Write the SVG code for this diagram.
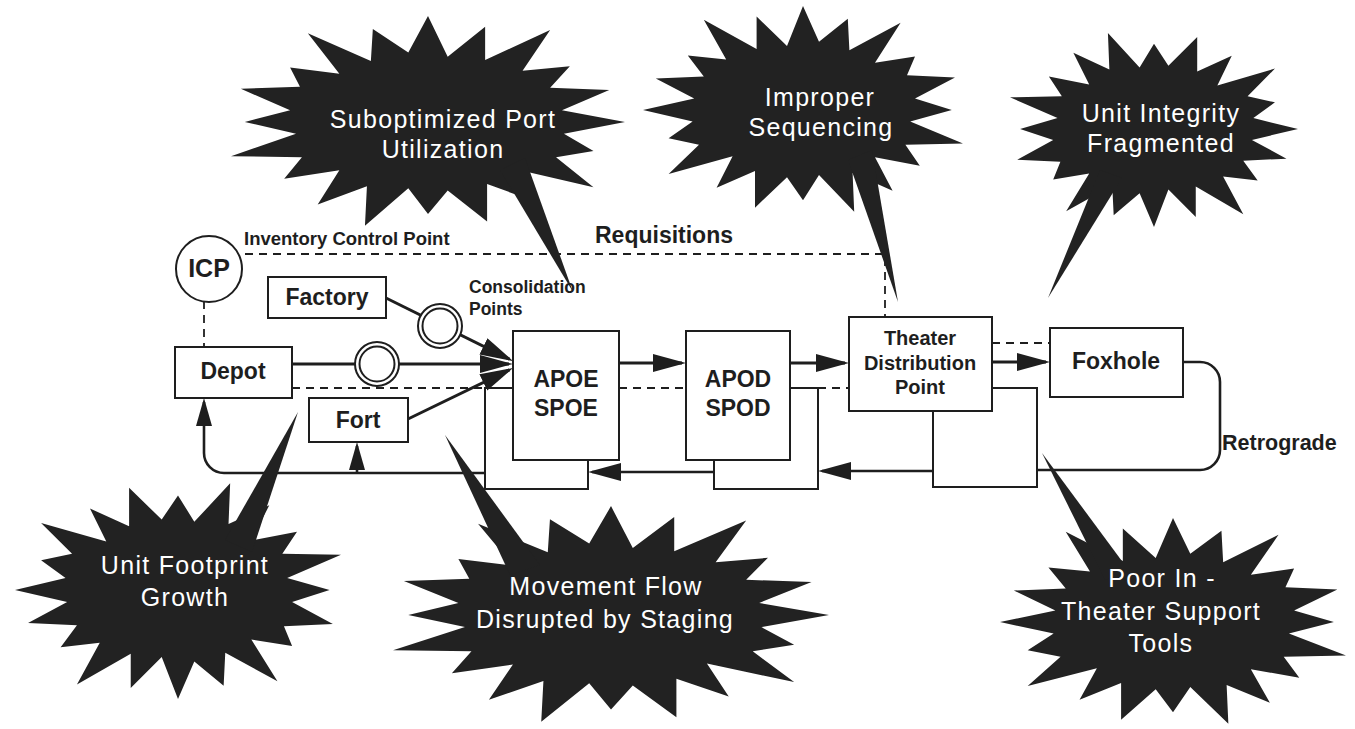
<svg xmlns="http://www.w3.org/2000/svg" xmlns:xlink="http://www.w3.org/1999/xlink" width="1355" height="729" viewBox="0 0 1355 729">
  <style>
    .box { fill: #fff; stroke: #1e1e1e; stroke-width: 2; }
    .lbl { font-family: "Liberation Sans", Arial, Helvetica, sans-serif; font-weight: bold; fill: #1e1e1e; text-anchor: middle; }
    .note { font-family: "Liberation Sans", Arial, Helvetica, sans-serif; font-weight: bold; fill: #1e1e1e; }
    .flow { fill: none; stroke: #1e1e1e; stroke-width: 3; }
    .ret { fill: none; stroke: #1e1e1e; stroke-width: 2.6; }
    .dash { fill: none; stroke: #1e1e1e; stroke-width: 1.8; stroke-dasharray: 8 6; }
    .ring { fill: #fff; stroke: #1e1e1e; stroke-width: 2; }
    .burst { fill: #222; }
    .bt { font-family: "Liberation Sans", Arial, Helvetica, sans-serif; font-size: 25px; letter-spacing: 1.3px; fill: #fff; text-anchor: middle; }
  </style>
  <defs>
    <!-- spiky callout body, unit size about 200 x 200 centred on 0,0 -->
    <path id="spikes" d="M100,0 L69,11 L84,27 L65,33 L84,61 L44,44 L54,74 L30,58 L30,93 L10,64 L0,86 L-10,62 L-32,97 L-31,60 L-56,77 L-45,45 L-73,53 L-64,33 L-100,32 L-67,11 L-93,0 L-70,-11 L-95,-31 L-65,-33 L-70,-51 L-45,-45 L-61,-83 L-29,-57 L-28,-87 L-10,-65 L0,-99 L10,-61 L29,-89 L29,-58 L62,-86 L48,-48 L72,-52 L62,-32 L92,-30 L68,-11 Z"/>
    <marker id="head" markerUnits="userSpaceOnUse" markerWidth="34" markerHeight="20" refX="29" refY="9" orient="auto">
      <path d="M0,0 L33,9 L0,18 Z" fill="#1e1e1e"/>
    </marker>
    <marker id="headS" markerUnits="userSpaceOnUse" markerWidth="28" markerHeight="18" refX="24" refY="8" orient="auto">
      <path d="M0,0 L28,8 L0,16 Z" fill="#1e1e1e"/>
    </marker>
  </defs>

  <rect width="1355" height="729" fill="#fff"/>

  <!-- free labels -->
  <text class="note" x="244" y="245" font-size="18.5">Inventory Control Point</text>
  <text class="note" x="595" y="243" font-size="23">Requisitions</text>
  <text class="note" x="469" y="293" font-size="17.5">Consolidation</text>
  <text class="note" x="469" y="315" font-size="17.5">Points</text>
  <text class="note" x="1222" y="450" font-size="21.5">Retrograde</text>

  <!-- staging areas behind the ports -->
  <g id="staging">
    <rect class="box" x="485" y="388" width="103" height="101"/>
    <rect class="box" x="714" y="388" width="104" height="101"/>
    <rect class="box" x="933" y="388" width="104" height="99"/>
  </g>

  <g id="connectors">
    <!-- requisition / information flow -->
    <path class="dash" d="M245,254 H885 V317"/>
    <path class="dash" d="M204,301 V347"/>
    <path class="dash" d="M292,388 H485"/>
    <path class="dash" d="M619,388 H686"/>
    <path class="dash" d="M818,388 H849"/>
    <path class="dash" d="M992,343 H1050"/>
    <!-- forward movement -->
    <path class="flow" d="M292,364 H509" marker-end="url(#head)"/>
    <path class="flow" d="M386,298 L509.4,359.2" marker-end="url(#head)"/>
    <path class="flow" d="M408,419 L509.4,369.8" marker-end="url(#head)"/>
    <path class="flow" d="M619,363 H682" marker-end="url(#head)"/>
    <path class="flow" d="M790,363 H845" marker-end="url(#head)"/>
    <path class="flow" d="M992,362 H1046" marker-end="url(#head)"/>
    <!-- retrograde loop -->
    <path class="ret" d="M1183,362 H1200 A20,20 0 0 1 1220,382 V450 A20,20 0 0 1 1200,470 H1037"/>
    <path class="ret" d="M933,471 H822" marker-end="url(#head)"/>
    <path class="ret" d="M714,472 H592" marker-end="url(#head)"/>
    <path class="ret" d="M485,473 H224 A20,20 0 0 1 204,453 V402" marker-end="url(#headS)"/>
    <path class="ret" d="M357,473 V446" marker-end="url(#headS)"/>
  </g>

  <!-- consolidation points -->
  <g id="cp-depot">
    <circle class="ring" cx="377" cy="364" r="22"/>
    <circle cx="377" cy="364" r="17.5" fill="none" stroke="#1e1e1e" stroke-width="2"/>
  </g>
  <g id="cp-factory">
    <circle class="ring" cx="440" cy="326" r="22"/>
    <circle cx="440" cy="326" r="17.5" fill="none" stroke="#1e1e1e" stroke-width="2"/>
  </g>

  <!-- nodes -->
  <g id="icp">
    <circle class="ring" cx="209" cy="269" r="33"/>
    <text class="lbl" x="209" y="277" font-size="25">ICP</text>
  </g>
  <g id="factory">
    <rect class="box" x="268" y="277" width="118" height="41"/>
    <text class="lbl" x="327" y="305" font-size="23">Factory</text>
  </g>
  <g id="depot">
    <rect class="box" x="175" y="347" width="117" height="51"/>
    <text class="lbl" x="233" y="379" font-size="23">Depot</text>
  </g>
  <g id="fort">
    <rect class="box" x="309" y="398" width="99" height="44"/>
    <text class="lbl" x="358" y="428" font-size="23">Fort</text>
  </g>
  <g id="apoe">
    <rect class="box" x="513" y="331" width="106" height="129"/>
    <text class="lbl" x="566" y="387" font-size="23">APOE</text>
    <text class="lbl" x="566" y="416" font-size="23">SPOE</text>
  </g>
  <g id="apod">
    <rect class="box" x="686" y="331" width="104" height="129"/>
    <text class="lbl" x="738" y="387" font-size="23">APOD</text>
    <text class="lbl" x="738" y="416" font-size="23">SPOD</text>
  </g>
  <g id="tdp">
    <rect class="box" x="849" y="317" width="143" height="94"/>
    <text class="lbl" x="920" y="345" font-size="20">Theater</text>
    <text class="lbl" x="920" y="370" font-size="20">Distribution</text>
    <text class="lbl" x="920" y="394" font-size="20">Point</text>
  </g>
  <g id="foxhole">
    <rect class="box" x="1050" y="328" width="133" height="69"/>
    <text class="lbl" x="1116" y="369" font-size="23">Foxhole</text>
  </g>

  <!-- problem callouts -->
  <g id="burst-port">
    <use xlink:href="#spikes" class="burst" transform="translate(428,122) scale(1.97,1.07)"/>
    <polygon class="burst" points="500,170 525,158 573,292"/>
    <text class="bt" x="443" y="128">Suboptimized Port</text>
    <text class="bt" x="443" y="158">Utilization</text>
  </g>
  <g id="burst-seq">
    <use xlink:href="#spikes" class="burst" transform="translate(803,110) scale(-1.6,1.05)"/>
    <polygon class="burst" points="848,160 872,150 898,302"/>
    <text class="bt" x="820" y="106">Improper</text>
    <text class="bt" x="821" y="136">Sequencing</text>
  </g>
  <g id="burst-unit">
    <use xlink:href="#spikes" class="burst" transform="translate(1154,129) scale(1.44,-0.99)"/>
    <polygon class="burst" points="1100,170 1122,178 1048,298"/>
    <text class="bt" x="1161" y="122">Unit Integrity</text>
    <text class="bt" x="1161" y="152">Fragmented</text>
  </g>
  <g id="burst-footprint">
    <use xlink:href="#spikes" class="burst" transform="translate(178,590) scale(-1.63,-1.1)"/>
    <polygon class="burst" points="225,540 252,552 298,412"/>
    <text class="bt" x="185" y="574">Unit Footprint</text>
    <text class="bt" x="185" y="606">Growth</text>
  </g>
  <g id="burst-staging">
    <use xlink:href="#spikes" class="burst" transform="translate(611,615) scale(2.18,1.1)"/>
    <polygon class="burst" points="510,575 540,565 445,435"/>
    <text class="bt" x="606" y="595">Movement Flow</text>
    <text class="bt" x="605" y="628">Disrupted by Staging</text>
  </g>
  <g id="burst-tools">
    <use xlink:href="#spikes" class="burst" transform="translate(1173,622) scale(-1.73,1.05)"/>
    <polygon class="burst" points="1105,580 1130,572 1042,453"/>
    <text class="bt" x="1162" y="587">Poor In -</text>
    <text class="bt" x="1161" y="620">Theater Support</text>
    <text class="bt" x="1161" y="652">Tools</text>
  </g>
</svg>
